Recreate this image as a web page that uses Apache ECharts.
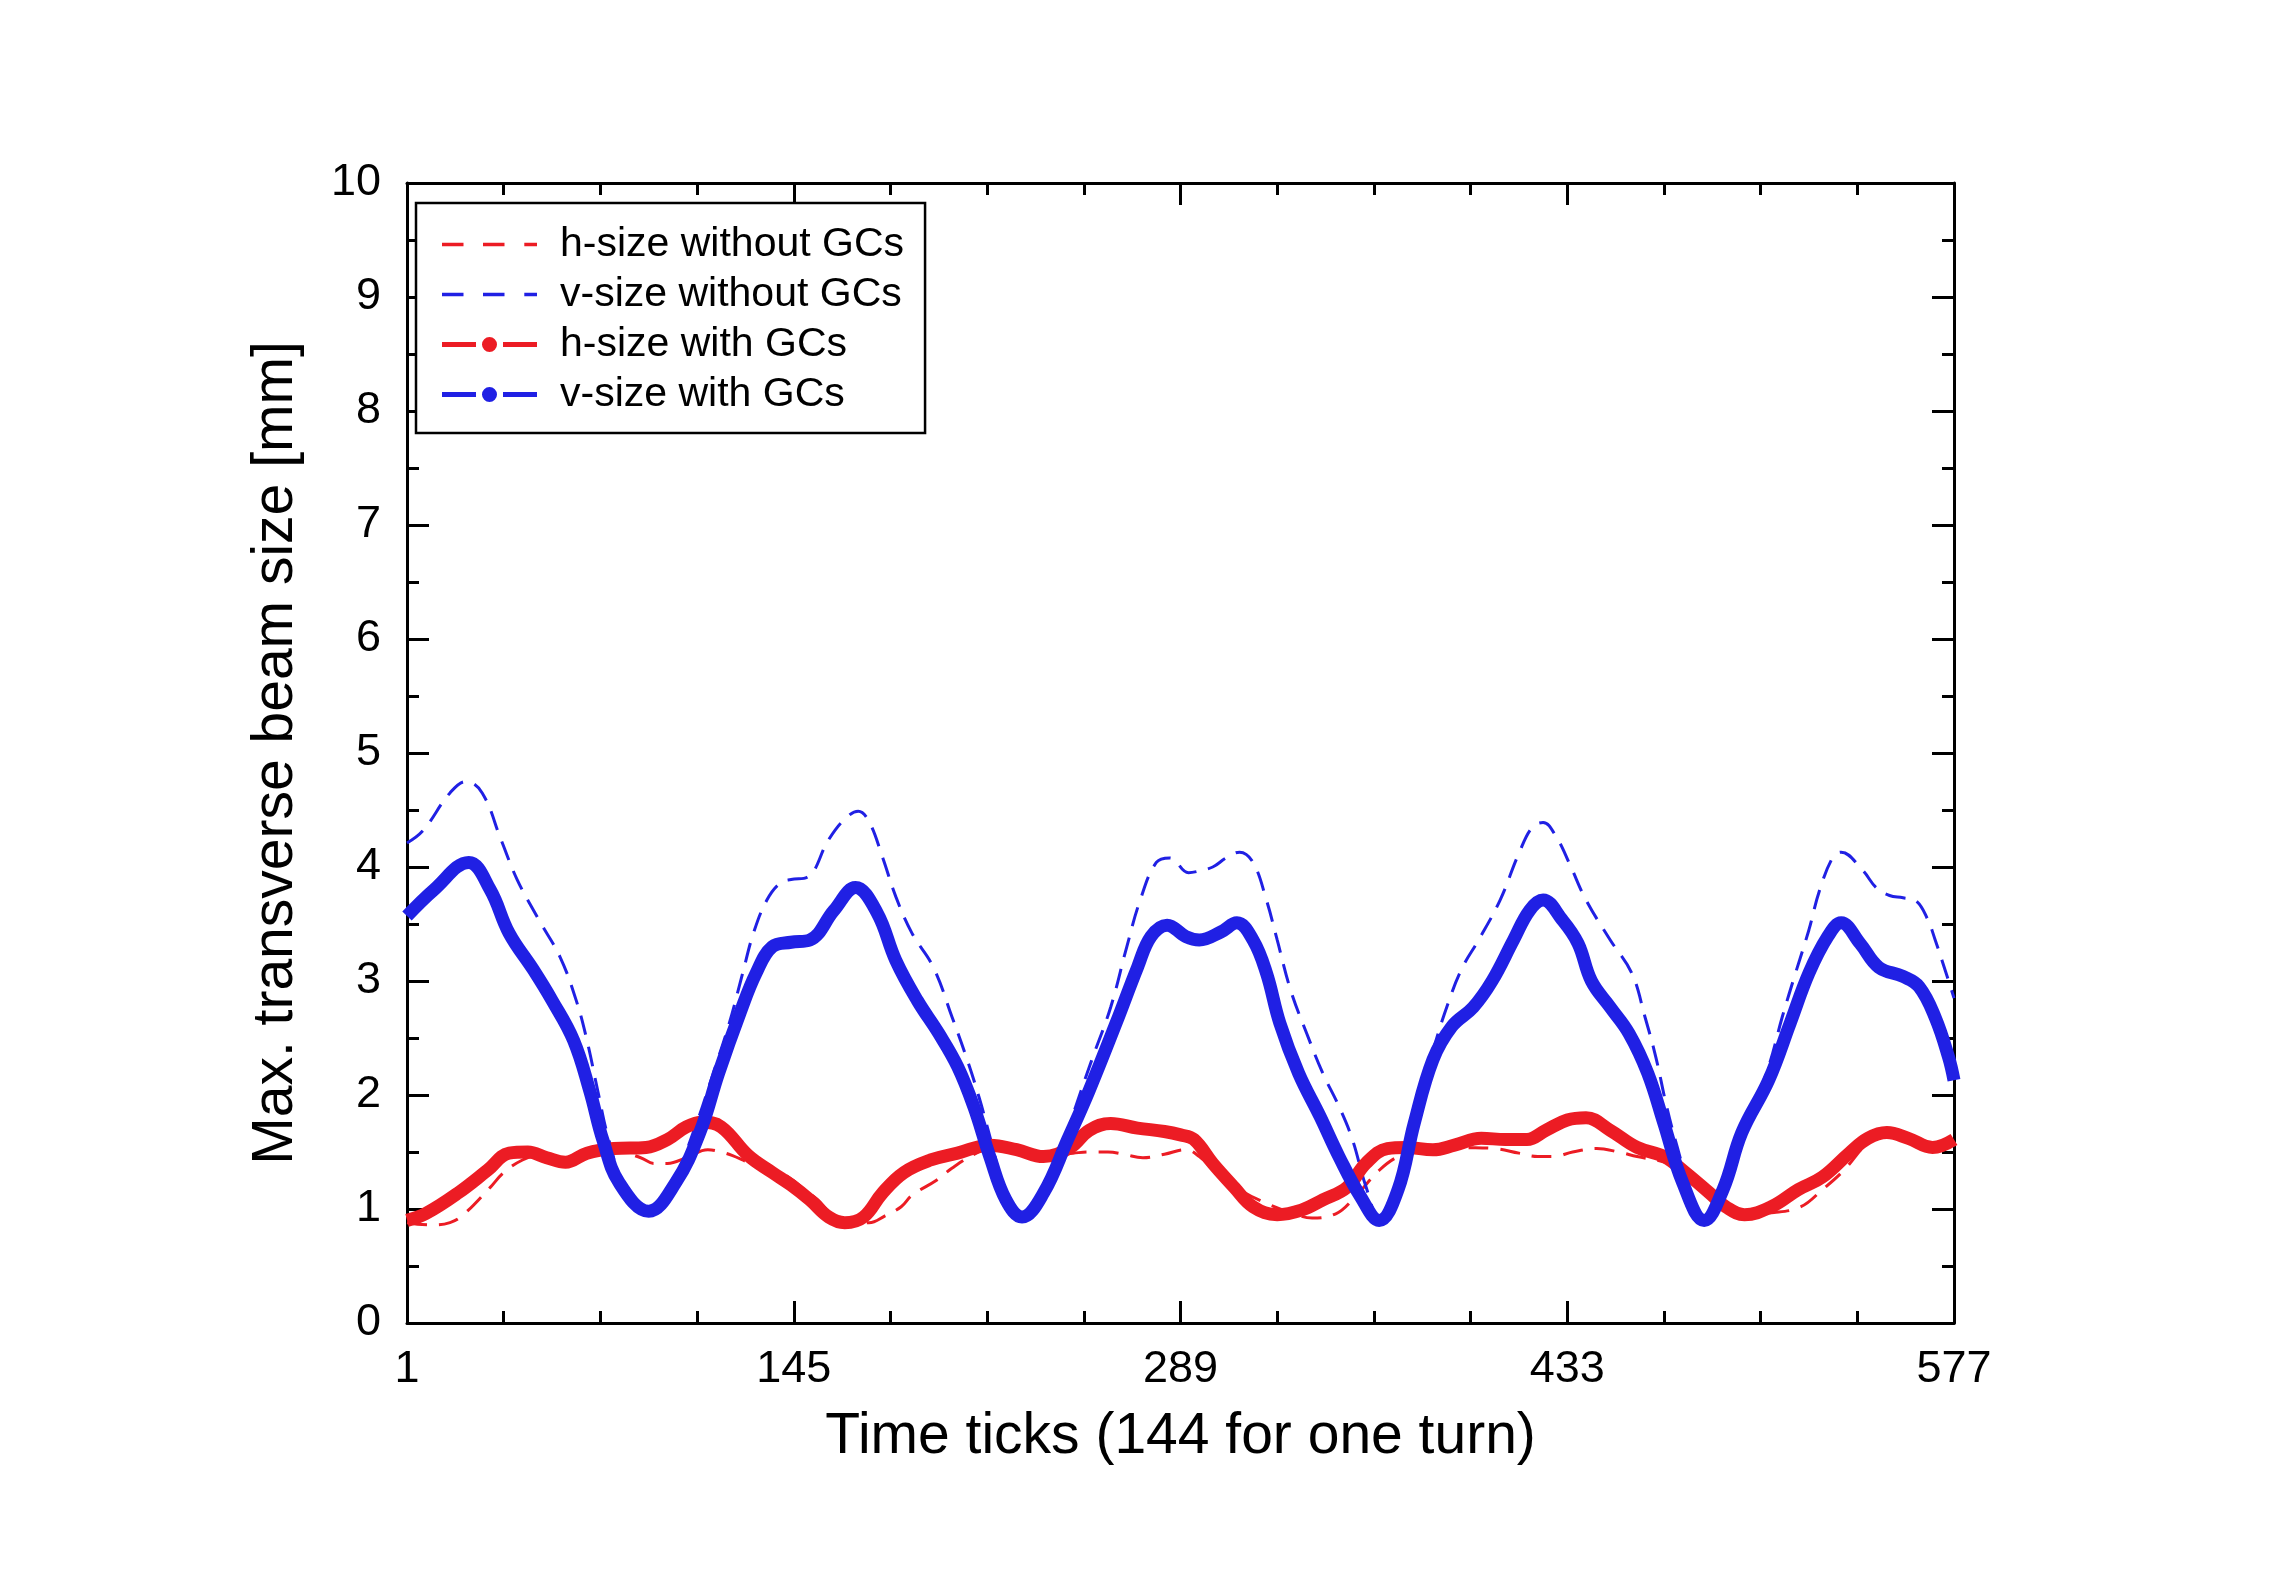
<!DOCTYPE html>
<html><head><meta charset="utf-8">
<script src="https://cdn.jsdelivr.net/npm/echarts@6/dist/echarts.min.js"></script>
<style>html,body{margin:0;padding:0;background:#fff}#c{width:2271px;height:1586px}</style>
</head><body><div id="c"></div>
<script>
// Time ticks start at 1; the axis shows ticks as (t - T0) so major ticks fall on multiples of 144
const T0 = 1;
const xTickLabels = ['1', '145', '289', '433', '577'];

const hWithoutT = [1,10,17,22,32,37,44,50,60,70,80,88,93,98,105,113,118,122,129,136,143,150,154,159,166,173,179,185,189,198,204,213,220,228,238,249,255,262,268,275,283,291,296,301,311,321,330,338,347,353,363,370,378,386,394,406,415,422,428,435,444,452,459,471,479,486,493,500,510,520,528,536,545,552,560,568,577];
const hWithoutV = [0.88,0.86,0.88,0.95,1.19,1.32,1.43,1.47,1.42,1.48,1.50,1.45,1.40,1.40,1.45,1.52,1.50,1.47,1.40,1.35,1.28,1.15,1.08,0.96,0.90,0.88,0.94,1.02,1.12,1.25,1.36,1.49,1.55,1.52,1.47,1.49,1.50,1.50,1.48,1.45,1.48,1.52,1.46,1.35,1.17,1.05,0.97,0.92,0.96,1.08,1.34,1.46,1.52,1.55,1.54,1.53,1.49,1.46,1.46,1.50,1.53,1.50,1.46,1.40,1.30,1.17,1.04,0.96,0.97,1.02,1.17,1.34,1.58,1.65,1.62,1.55,1.60];

const vWithoutT = [1,7,17,23,29,36,42,50,58,64,68,72,76,82,90,100,108,115,121,126,130,135,140,144,150,158,164,169,173,178,183,189,197,204,209,214,219,224,230,238,245,250,256,263,269,274,280,285,292,295,301,306,311,316,321,325,330,336,342,348,353,358,363,369,376,383,389,394,400,408,415,420,424,429,434,440,449,457,462,466,470,474,479,484,491,498,503,508,513,518,523,527,532,535,543,548,553,558,563,567,570,575,577];
const vWithoutV = [4.21,4.32,4.65,4.75,4.65,4.24,3.89,3.54,3.21,2.83,2.48,2.04,1.62,1.20,1.00,1.25,1.70,2.19,2.63,3.07,3.42,3.71,3.86,3.89,3.91,4.24,4.42,4.49,4.40,4.09,3.74,3.42,3.12,2.68,2.35,1.98,1.55,1.12,0.93,1.14,1.55,1.90,2.31,2.77,3.30,3.71,4.04,4.08,3.95,3.96,4.00,4.08,4.13,4.04,3.71,3.36,2.92,2.54,2.19,1.90,1.61,1.20,0.92,1.20,1.80,2.39,2.83,3.12,3.36,3.71,4.12,4.35,4.39,4.26,4.02,3.71,3.36,3.07,2.68,2.33,1.90,1.54,1.15,0.92,1.18,1.70,1.95,2.25,2.68,3.07,3.45,3.80,4.09,4.13,3.97,3.82,3.75,3.73,3.70,3.55,3.36,3.00,2.85];

const hWithT = [1,8,20,31,39,46,53,60,68,78,90,98,105,111,118,128,137,144,151,158,164,171,178,186,196,206,218,228,238,248,255,263,273,283,289,294,301,309,316,325,334,342,351,358,366,373,383,391,401,410,418,425,433,440,449,459,469,477,486,492,499,509,519,528,538,545,552,560,569,577];
const hWithV = [0.90,0.96,1.14,1.34,1.49,1.50,1.45,1.41,1.49,1.53,1.54,1.61,1.72,1.76,1.72,1.47,1.32,1.21,1.08,0.93,0.88,0.93,1.14,1.32,1.43,1.49,1.56,1.52,1.46,1.54,1.69,1.75,1.71,1.68,1.65,1.61,1.40,1.19,1.02,0.95,0.99,1.08,1.19,1.40,1.53,1.54,1.52,1.56,1.62,1.61,1.61,1.69,1.78,1.80,1.69,1.54,1.46,1.32,1.14,1.02,0.95,1.02,1.17,1.28,1.49,1.62,1.67,1.62,1.54,1.61];

const vWithT = [1,11,24,32,39,48,55,63,69,74,80,91,101,110,117,125,131,137,144,151,160,168,176,183,191,199,206,212,218,224,230,238,247,255,265,273,278,284,291,296,304,310,316,321,326,333,341,348,356,363,370,376,383,390,398,405,413,419,424,431,437,442,449,456,463,469,476,484,491,498,508,516,523,530,535,542,549,558,564,570,575,577];
const vWithV = [3.57,3.80,4.04,3.80,3.42,3.10,2.83,2.48,2.04,1.60,1.23,0.98,1.23,1.67,2.19,2.72,3.07,3.30,3.34,3.36,3.62,3.82,3.60,3.18,2.83,2.54,2.25,1.90,1.46,1.08,0.93,1.14,1.61,2.04,2.63,3.12,3.39,3.49,3.39,3.36,3.43,3.51,3.36,3.07,2.63,2.19,1.81,1.46,1.11,0.90,1.17,1.75,2.31,2.60,2.77,3.00,3.36,3.62,3.71,3.54,3.33,3.00,2.77,2.54,2.19,1.75,1.23,0.90,1.17,1.67,2.13,2.63,3.07,3.39,3.51,3.33,3.12,3.04,2.95,2.68,2.33,2.13];

const seriesNames = ['h-size without GCs', 'v-size without GCs', 'h-size with GCs', 'v-size with GCs'];

const RED = '#ec1c24';
const BLUE = '#2020e4';
const FONT = '"Liberation Sans", Arial, sans-serif';

function pts(T, V) {
  const n = Math.min(T.length, V.length);
  const out = [];
  for (let i = 0; i < n; i++) out.push([T[i] - T0, V[i]]);
  return out;
}

const ICON_DASH = 'path://M0 0L0.01 0L0 0.01Z M95 20L94.99 20L95 19.99Z M0 8.35H21.5V11.65H0Z M41 8.35H62.5V11.65H41Z M82.3 8.35H95V11.65H82.3Z';
const ICON_SOLID = 'path://M0 0L0.01 0L0 0.01Z M95 20L94.99 20L95 19.99Z M0 7.5H34V12.5H0Z M61 7.5H95V12.5H61Z M40 10A7.5 7.5 0 1 0 55 10A7.5 7.5 0 1 0 40 10Z';

const tickStyle = { color: '#000', width: 3 };
function xAxisDef(pos, showLabel) {
  return {
    type: 'value', position: pos, min: 0, max: 576, interval: 144,
    axisLine: { show: true, onZero: false, lineStyle: { color: '#000', width: 3 } },
    axisTick: { show: true, inside: true, length: 22, lineStyle: tickStyle },
    minorTick: { show: true, splitNumber: 4, length: 12, lineStyle: tickStyle },
    splitLine: { show: false }, minorSplitLine: { show: false },
    axisLabel: {
      show: showLabel, margin: 24, fontSize: 45, color: '#000', fontFamily: FONT,
      formatter: function (v) { const i = Math.round(v / 144); return xTickLabels[i] !== undefined ? xTickLabels[i] : String(v + T0); }
    },
    name: showLabel ? 'Time ticks (144 for one turn)' : '',
    nameLocation: 'middle', nameGap: 86,
    nameTextStyle: { fontSize: 57, color: '#000', fontFamily: FONT }
  };
}
function yAxisDef(pos, showLabel) {
  return {
    type: 'value', position: pos, min: 0, max: 10, interval: 1,
    axisLine: { show: true, onZero: false, lineStyle: { color: '#000', width: 3 } },
    axisTick: { show: true, inside: true, length: 22, lineStyle: tickStyle },
    minorTick: { show: true, splitNumber: 2, length: 12, lineStyle: tickStyle },
    splitLine: { show: false }, minorSplitLine: { show: false },
    axisLabel: { show: showLabel, margin: 26, fontSize: 45, color: '#000', fontFamily: FONT },
    name: showLabel ? 'Max. transverse beam size [mm]' : '',
    nameLocation: 'middle', nameGap: 102, nameRotate: 90,
    nameTextStyle: { fontSize: 57, color: '#000', fontFamily: FONT }
  };
}

const chart = echarts.init(document.getElementById('c'), null, { renderer: 'canvas' });
chart.setOption({
  animation: false,
  backgroundColor: '#fff',
  grid: { left: 407, right: 317, top: 183, bottom: 263, containLabel: false },
  xAxis: [xAxisDef('bottom', true), xAxisDef('top', false)],
  yAxis: [yAxisDef('left', true), yAxisDef('right', false)],
  legend: {
    orient: 'vertical', left: 416, top: 203,
    padding: [21, 21, 18, 26],
    borderColor: '#000', borderWidth: 2.5, backgroundColor: '#fff',
    itemWidth: 95, itemHeight: 20, itemGap: 9,
    selectedMode: false,
    itemStyle: { borderWidth: 0 },
    textStyle: { fontSize: 41, color: '#000', fontFamily: FONT, lineHeight: 40, padding: [0, 0, 0, 18] },
    data: [
      { name: seriesNames[0], icon: ICON_DASH },
      { name: seriesNames[1], icon: ICON_DASH },
      { name: seriesNames[2], icon: ICON_SOLID },
      { name: seriesNames[3], icon: ICON_SOLID }
    ]
  },
  series: [
    { name: seriesNames[0], type: 'line', data: pts(hWithoutT, hWithoutV), symbol: 'none', smooth: 0.4,
      lineStyle: { color: RED, width: 3, type: [20, 12] }, itemStyle: { color: RED }, z: 3 },
    { name: seriesNames[1], type: 'line', data: pts(vWithoutT, vWithoutV), symbol: 'none', smooth: 0.4,
      lineStyle: { color: BLUE, width: 3, type: [20, 12] }, itemStyle: { color: BLUE }, z: 3 },
    { name: seriesNames[2], type: 'line', data: pts(hWithT, hWithV), symbol: 'none', smooth: 0.4,
      lineStyle: { color: RED, width: 13 }, itemStyle: { color: RED }, z: 4 },
    { name: seriesNames[3], type: 'line', data: pts(vWithT, vWithV), symbol: 'none', smooth: 0.4,
      lineStyle: { color: BLUE, width: 13 }, itemStyle: { color: BLUE }, z: 5 }
  ]
});
</script>
</body></html>
